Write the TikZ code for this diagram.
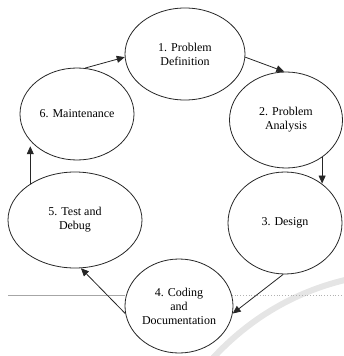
\documentclass[tikz,border=0pt]{standalone}
\usepackage{fontspec}
\setmainfont{Liberation Serif}
\usetikzlibrary{shapes.geometric,arrows.meta}
\begin{document}
\begin{tikzpicture}[x=1pt,y=-1pt,
  stage/.style={draw=black!85,line width=0.8pt,ellipse,inner sep=0pt,align=center,
    font=\fontsize{12}{14}\selectfont},
  flow/.style={draw=black!85,line width=0.8pt,-{Triangle[length=8pt,width=7pt]}},
  scanline/.style={draw=black!35,line width=0.8pt}]
\useasboundingbox (0,0) rectangle (343,356);
% faint watermark arc
\draw[black!10,line width=6pt] (213,358) .. controls (250,318) and (295,292) .. (345,280);
% scan line
\draw[scanline] (8,295) -- (125,295);
\draw[scanline,dotted,black!30] (215,295) -- (343,295);
\node[stage,minimum width=120pt,minimum height=92pt,fill=white] (e1) at (185,54) {1. Problem\\Definition};
\node[stage,minimum width=113pt,minimum height=96pt] (e2) at (286,120) {2. Problem\\Analysis};
\node[stage,minimum width=114pt,minimum height=102pt] (e3) at (285,223) {3. Design};
\node[stage,minimum width=108pt,minimum height=94pt,fill=white] (e4) at (179,306) {4. Coding\\and\\Documentation};
\node[stage,minimum width=134pt,minimum height=96pt] (e5) at (75,220) {5. Test and\\Debug};
\node[stage,minimum width=114pt,minimum height=92pt] (e6) at (77,114) {6. Maintenance};
\draw[flow] (e6.80) -- (e1.183);
\draw[flow] (e1.-3) -- (e2.92);
\draw[flow] (e2.-46) -- (e2.-46 |- e3.47);
\draw[flow] (e3.268) -- (e4.-8);
\draw[flow] (e4.188) -- (e5.277);
\draw[flow] (e5.141) -- (e5.141 |- e6.218);
\end{tikzpicture}
\end{document}
